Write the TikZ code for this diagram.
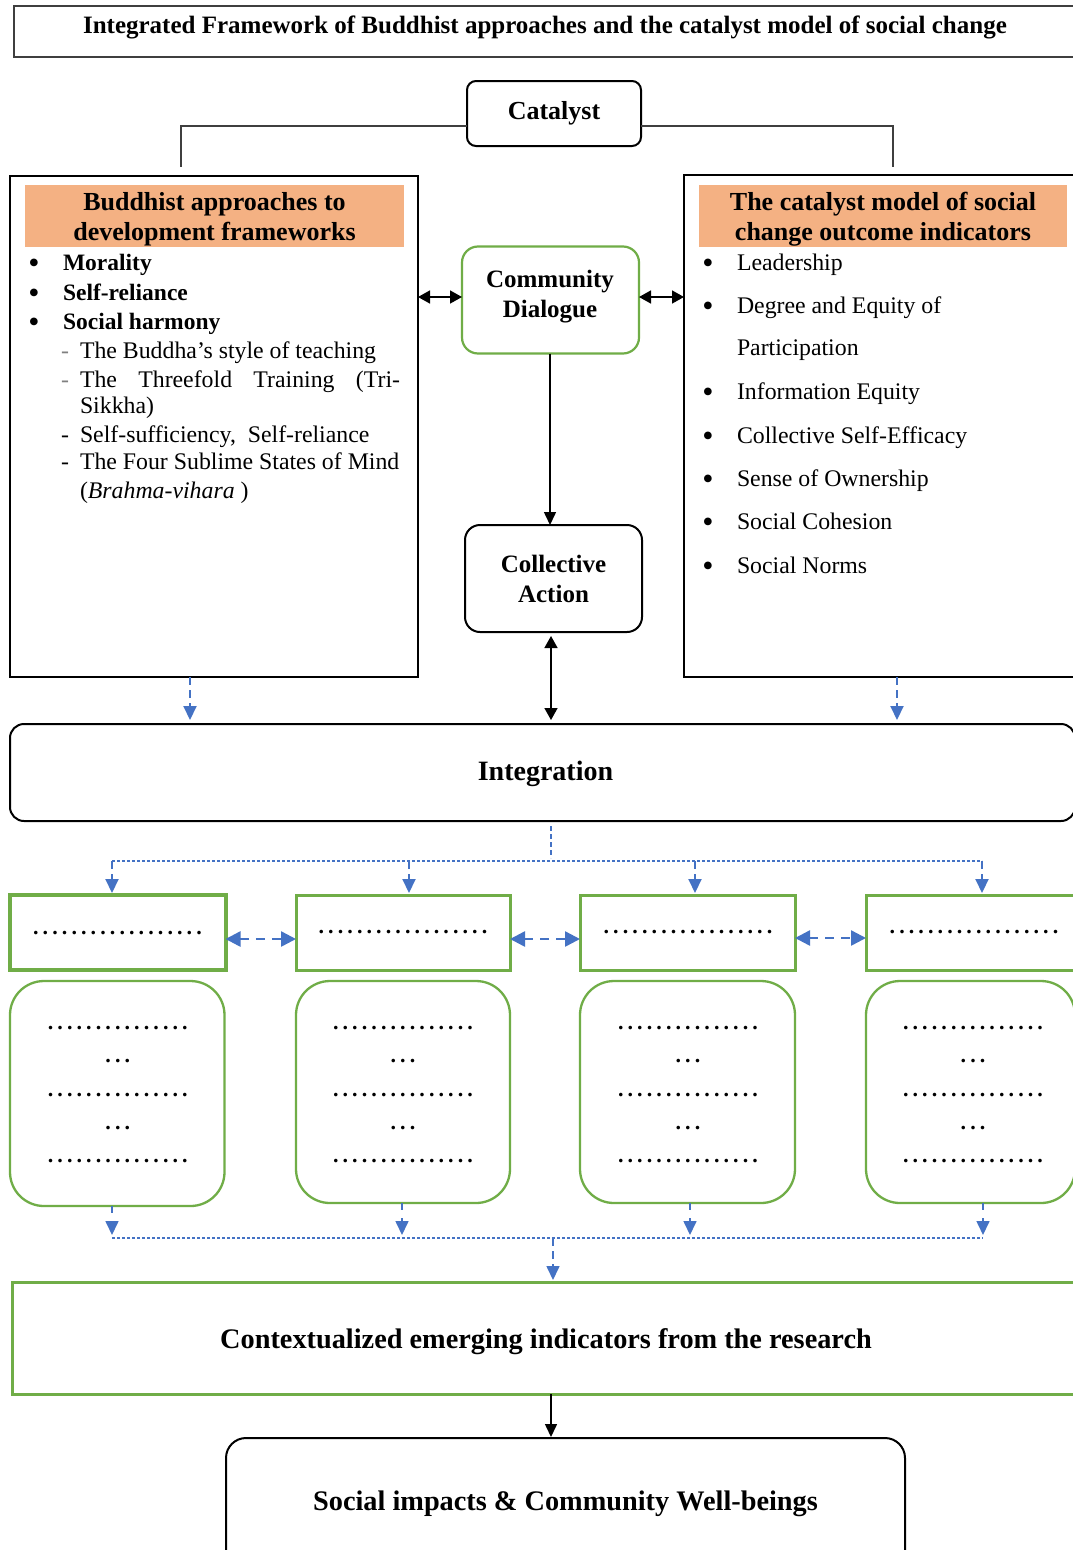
\documentclass[tikz,border=0pt]{standalone}
\usepackage{fontspec}
\setmainfont{Liberation Serif}
\usetikzlibrary{arrows.meta}

\definecolor{leafgreen}{HTML}{70AD47}
\definecolor{linkblue}{HTML}{4472C4}
\definecolor{headorange}{HTML}{F4B183}
\definecolor{rulegray}{HTML}{3F3F3F}

% a row of evenly spaced full stops used as placeholder text
\newlength\dotgap
\setlength\dotgap{9.6pt}
\newcommand\dotrow[1]{\hbox to #1\dotgap{\xleaders\hbox to \dotgap{\hss.\hss}\hfill}}
\newcommand\fsz[2]{\fontsize{#1}{#2}\selectfont}

\tikzset{
  every node/.style={inner sep=0pt, outer sep=0pt},
  plainframe/.style={draw=black, line width=1.3pt},
  blackround/.style={draw=black, line width=2pt},
  greenround/.style={draw=leafgreen, line width=2.3pt, rounded corners=34pt},
  greenrect/.style={draw=leafgreen, line width=3pt},
  headfill/.style={fill=headorange},
  headtext/.style={anchor=base, font=\bfseries\fsz{26}{30}},
  bolditem/.style={anchor=base west, font=\bfseries\fsz{23.5}{28}},
  item/.style={anchor=base west, font=\fsz{23.8}{28}},
  bulletmark/.style={anchor=base, font=\fsz{32}{32}},
  dashmark/.style={anchor=base, font=\fsz{23.8}{28}},
  dotsline/.style={anchor=base, font=\bfseries\fsz{22}{24}},
  onearrow/.style={draw=black, line width=1.5pt, -{Triangle[length=13pt,width=12pt]}},
  twoarrow/.style={draw=black, line width=1.6pt, {Triangle[length=12pt,width=13pt]}-{Triangle[length=12pt,width=13pt]}},
  bluearrow/.style={draw=linkblue, line width=2pt, dash pattern=on 8pt off 5pt, -{Triangle[length=14pt,width=13pt]}},
  bluetwo/.style={draw=linkblue, line width=2.5pt, dash pattern=on 9pt off 7pt, {Triangle[length=15pt,width=15pt]}-{Triangle[length=15pt,width=15pt]}},
  bluethin/.style={draw=linkblue, line width=1.5pt, dash pattern=on 5pt off 3pt},
  bluedots/.style={draw=linkblue, line width=1.5pt, dash pattern=on 3pt off 2pt},
  grayline/.style={draw=rulegray, line width=1.1pt},
}

\begin{document}
\begin{tikzpicture}[x=1pt, y=-1pt]
\path[use as bounding box, clip] (0,0) rectangle (1073,1550);
\fill[white] (0,0) rectangle (1073,1550);

% column positions of the vertical connectors
\coordinate (colA) at (190,0);
\coordinate (colB) at (897,0);
\coordinate (colM) at (551,0);
\coordinate (colD) at (550,0);

% ---------- title ----------
\node[draw=rulegray, line width=1.2pt, minimum width=1076pt, minimum height=51pt] (titlebox) at (552,31.5) {};
\node[anchor=base, font=\bfseries\fsz{25}{30}] (titletext) at (545,33) {Integrated Framework of Buddhist approaches and the catalyst model of social change};

% ---------- catalyst ----------
\node[blackround, rounded corners=9pt, minimum width=174pt, minimum height=65pt, font=\bfseries\fsz{26}{30}] (catalyst) at (554,113.5) {Catalyst};
\coordinate (lstub) at (181,167);
\coordinate (rstub) at (893,167);
\draw[grayline] ([yshift=-12.5pt]catalyst.west) -| (lstub);
\draw[grayline] ([yshift=-12.5pt]catalyst.east) -| (rstub);

% ---------- left column: Buddhist approaches ----------
\node[plainframe, minimum width=408pt, minimum height=501pt] (leftbox) at (214,426.5) {};
\node[headfill, minimum width=379pt, minimum height=62pt] (lefthead) at (214.5,216) {};
\node[headtext] (lh1) at (214.5,210) {Buddhist approaches to};
\node[headtext] (lh2) at (214.5,240) {development frameworks};

\node[bulletmark] (lb1) at (34,273) {•};
\node[bolditem] (li1) at (63,270) {Morality};
\node[bulletmark] (lb2) at (34,303) {•};
\node[bolditem] (li2) at (63,300) {Self-reliance};
\node[bulletmark] (lb3) at (34,332) {•};
\node[bolditem] (li3) at (63,329) {Social harmony};

\node[dashmark, text=gray] (ld1) at (65,358) {-};
\node[item] (ls1) at (80,358) {The Buddha’s style of teaching};
\node[dashmark, text=gray] (ld2) at (65,387) {-};
\node[item] (ls2) at (80,387) {\makebox[320pt][s]{The Threefold Training (Tri-}};
\node[item] (ls2b) at (80,413) {Sikkha)};
\node[dashmark] (ld3) at (65,442) {-};
\node[item] (ls3) at (80,442) {Self-sufficiency,\ \ Self-reliance};
\node[dashmark] (ld4) at (65,469) {-};
\node[item] (ls4) at (80,469) {The Four Sublime States of Mind};
\node[item] (ls4b) at (80,498) {(\textit{Brahma-vihara} )};

% ---------- right column: catalyst model indicators ----------
\node[plainframe, minimum width=406pt, minimum height=502pt] (rightbox) at (887,426) {};
\node[headfill, minimum width=368pt, minimum height=62pt] (righthead) at (883,216) {};
\node[headtext] (rh1) at (883,210) {The catalyst model of social};
\node[headtext] (rh2) at (883,240) {change outcome indicators};

\node[bulletmark] (rb1) at (708,273) {•};
\node[item] (ri1) at (737,270) {Leadership};
\node[bulletmark] (rb2) at (708,316) {•};
\node[item] (ri2) at (737,313) {Degree and Equity of};
\node[item] (ri2b) at (737,355) {Participation};
\node[bulletmark] (rb3) at (708,402) {•};
\node[item] (ri3) at (737,399) {Information Equity};
\node[bulletmark] (rb4) at (708,446) {•};
\node[item] (ri4) at (737,443) {Collective Self-Efficacy};
\node[bulletmark] (rb5) at (708,489) {•};
\node[item] (ri5) at (737,486) {Sense of Ownership};
\node[bulletmark] (rb6) at (708,532) {•};
\node[item] (ri6) at (737,529) {Social Cohesion};
\node[bulletmark] (rb7) at (708,576) {•};
\node[item] (ri7) at (737,573) {Social Norms};

% ---------- centre column ----------
\node[draw=leafgreen, line width=2.2pt, rounded corners=16pt, minimum width=177pt, minimum height=107pt] (dialog) at (550.5,300) {};
\node[align=center, font=\bfseries\fsz{25}{30}] (dialogtext) at (550,297) {Community\\Dialogue};
\node[blackround, rounded corners=15pt, minimum width=177pt, minimum height=107pt, align=center, font=\bfseries\fsz{25}{30}] (action) at (553.5,578.5) {Collective\\Action};

\draw[twoarrow] ([yshift=3pt]dialog.west -| leftbox.east) -- ([yshift=3pt]dialog.west);
\draw[twoarrow] ([yshift=3pt]dialog.east) -- ([yshift=3pt]dialog.east -| rightbox.west);
\draw[onearrow] (dialog.south -| colD) -- (action.north -| colD);

% ---------- integration ----------
\node[blackround, rounded corners=14pt, minimum width=1065pt, minimum height=97pt] (integ) at (542.5,772.5) {};
\node[font=\bfseries\fsz{28}{32}] (integtext) at (545.5,774) {Integration};

\draw[twoarrow, shorten <=4pt, shorten >=4pt] (action.south -| colM) -- (integ.north -| colM);
\draw[bluearrow, shorten >=4pt] (leftbox.south -| colA) -- (integ.north -| colA);
\draw[bluearrow, shorten >=4pt] (rightbox.south -| colB) -- (integ.north -| colB);

% ---------- themes row ----------
\node[draw=leafgreen, line width=4pt, minimum width=215.5pt, minimum height=75pt] (rect1) at (117.75,932.5) {};
\node[greenrect, minimum width=214pt, minimum height=75pt] (rect2) at (403,932.5) {};
\node[greenrect, minimum width=215pt, minimum height=75pt] (rect3) at (687.5,932.5) {};
\node[greenrect, minimum width=224pt, minimum height=75pt] (rect4) at (978,932.5) {};

\node[dotsline] (rt1) at (117.5,934) {\dotrow{18}};
\node[dotsline] (rt2) at (403,933) {\dotrow{18}};
\node[dotsline] (rt3) at (688,933) {\dotrow{18}};
\node[dotsline] (rt4) at (974,933) {\dotrow{18}};

\draw[bluetwo] ([yshift=-6.5pt]rect1.east) -- ([yshift=-6.5pt]rect2.west);
\draw[bluetwo] ([yshift=-6.5pt]rect2.east) -- ([yshift=-6.5pt]rect3.west);
\draw[bluetwo] ([yshift=-5.5pt]rect3.east) -- ([yshift=-5.5pt]rect4.west);

\coordinate (hubtop) at (551,861);
\coordinate (t1) at (112,861);
\coordinate (t2) at (409,861);
\coordinate (t3) at (695,861);
\coordinate (t4) at (982,861);
\draw[bluethin] ([yshift=-5pt]integ.south -| hubtop) -- ([yshift=3pt]hubtop);
\draw[bluedots] (t1) -- (t4);
\draw[bluearrow, shorten >=2pt] (t1) -- (rect1.north -| t1);
\draw[bluearrow, shorten >=2pt] (t2) -- (rect2.north -| t2);
\draw[bluearrow, shorten >=2pt] (t3) -- (rect3.north -| t3);
\draw[bluearrow, shorten >=2pt] (t4) -- (rect4.north -| t4);

% ---------- detail boxes ----------
\node[greenround, minimum width=214.5pt, minimum height=225pt] (box1) at (117.25,1093.5) {};
\node[greenround, minimum width=214pt, minimum height=222pt] (box2) at (403,1092) {};
\node[greenround, minimum width=215pt, minimum height=222pt] (box3) at (687.5,1092) {};
\node[greenround, minimum width=209pt, minimum height=222pt] (box4) at (970.5,1092) {};

\foreach \b/\x in {1/117.8, 2/403, 3/688, 4/973}{
  \node[dotsline] (b\b l1) at (\x,1029) {\dotrow{15}};
  \node[dotsline] (b\b l2) at (\x,1062) {\dotrow{3}};
  \node[dotsline] (b\b l3) at (\x,1096) {\dotrow{15}};
  \node[dotsline] (b\b l4) at (\x,1129) {\dotrow{3}};
  \node[dotsline] (b\b l5) at (\x,1162) {\dotrow{15}};
}

\coordinate (hubbot) at (553,1238);
\coordinate (u1) at (112,1238);
\coordinate (u2) at (402,1238);
\coordinate (u3) at (690,1238);
\coordinate (u4) at (983,1238);
\draw[bluearrow, line width=1.6pt, dash pattern=on 7pt off 8pt, shorten >=3pt] (box1.south -| u1) -- (u1);
\draw[bluearrow, line width=1.6pt, dash pattern=on 7pt off 8pt, shorten >=3pt] (box2.south -| u2) -- (u2);
\draw[bluearrow, line width=1.6pt, dash pattern=on 7pt off 8pt, shorten >=3pt] (box3.south -| u3) -- (u3);
\draw[bluearrow, line width=1.6pt, dash pattern=on 7pt off 8pt, shorten >=3pt] (box4.south -| u4) -- (u4);
\draw[bluedots] (u1) -- (u4);

% ---------- emerging indicators and impacts ----------
\node[greenrect, minimum width=1078pt, minimum height=112pt] (ctx) at (551,1338) {};
\node[anchor=base, font=\bfseries\fsz{28.3}{32}] (ctxtext) at (546,1348) {Contextualized emerging indicators from the research};
\draw[bluearrow, line width=1.6pt, shorten >=2pt] (hubbot) -- (ctx.north -| hubbot);

\node[blackround, rounded corners=20pt, minimum width=679pt, minimum height=162pt] (social) at (565.5,1519) {};
\node[anchor=base, font=\bfseries\fsz{28.3}{32}] (socialtext) at (565.5,1510) {Social impacts \& Community Well-beings};
\draw[onearrow, shorten >=1pt] (ctx.south) -- (ctx.south |- social.north);

\end{tikzpicture}
\end{document}
